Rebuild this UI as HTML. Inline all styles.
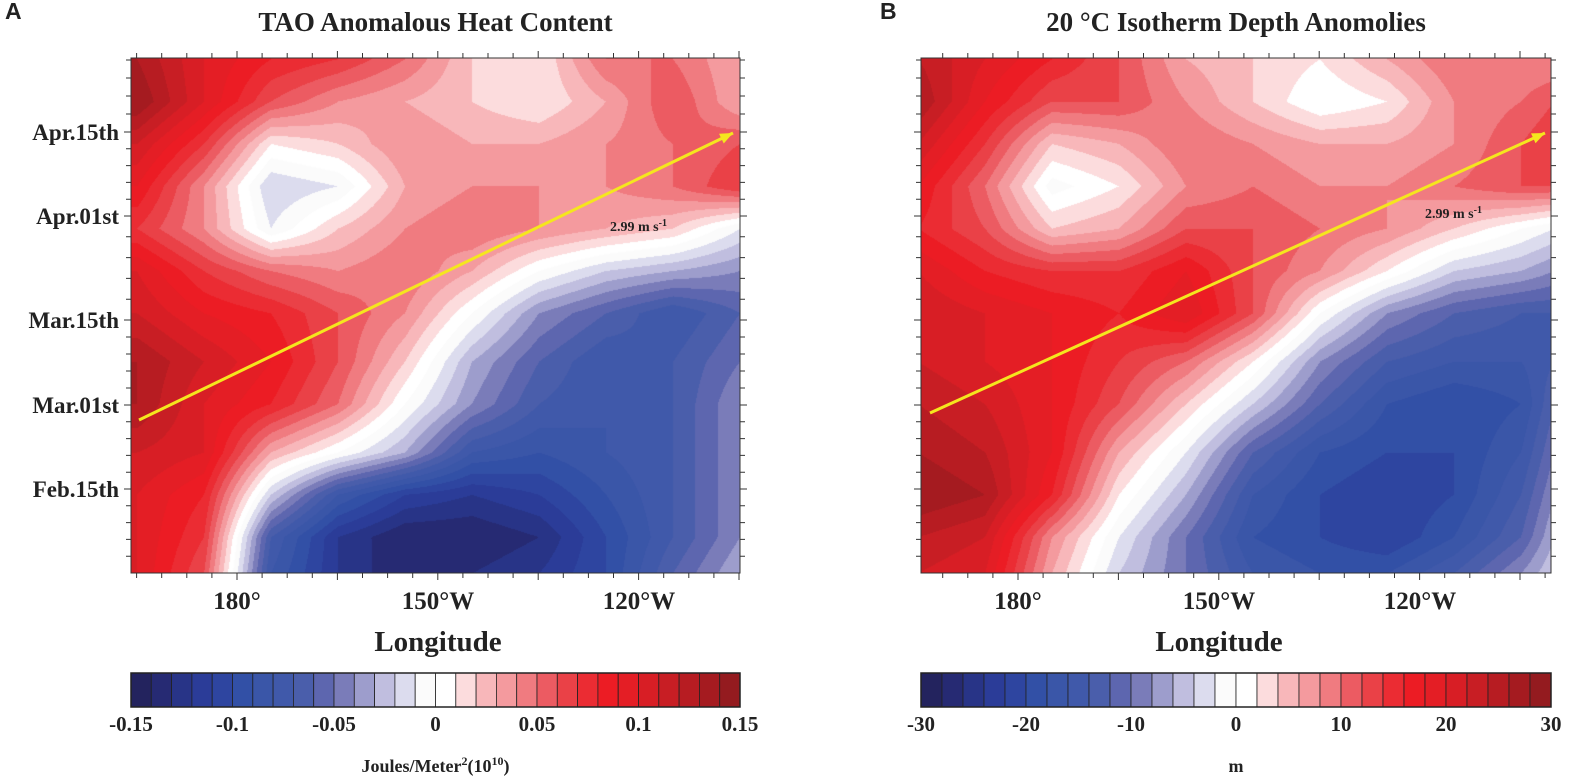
<!DOCTYPE html>
<html><head><meta charset="utf-8"><style>
body{margin:0;background:#fff;width:1584px;height:782px;overflow:hidden;position:relative;font-family:"Liberation Serif",serif;}
canvas{position:absolute;}
svg{position:absolute;left:0;top:0;}
text{font-family:"Liberation Serif",serif;font-weight:bold;fill:#222;}
</style></head><body>
<canvas id="cA" width="609" height="515" style="left:131px;top:58px"></canvas>
<canvas id="cB" width="630" height="515" style="left:921px;top:58px"></canvas>
<svg id="s" width="1584" height="782"></svg>
<script>
const palette=["#23235e","#262a73","#283487","#2b3c98","#2e45a0","#3250a6","#3a56a8","#4059aa","#4a5eab","#5d66af","#7a7cb9","#9d9dcc","#c0bedf","#dcdcee","#fbfbfb","#ffffff","#fcdcdd","#f8b7ba","#f49a9e","#f07b80","#ec5b62","#ea4147","#eb2c33","#ec1c24","#e41e25","#d81e25","#c81e24","#b71c22","#a51b20","#941b1f"];
const days=[85,78,71,64,57,50,43,35,28,20,13,6,0];
const lonsA=[165,175,185,195,205,215,225,235,245,255];
// heat content anomaly, units of 0.01e10 J/m2
const heatA=[
[13,10,8,7,5,2,1,5,5,3],
[14,10,6,4,3,2,1,3,6,3],
[11,7,1,2,4,3,3,4,5,6],
[9,4,-2,-1,3,4,4,4,5,7],
[7,4,-1,2,4,5,4,3,2,-1],
[10,7,5,4,5,3,0,-2,-3,-4],
[11,9,8,6,4,0,-4,-6,-8,-6],
[13,11,9,6,2,-3,-6,-8,-7,-5],
[13,10,8,5,0,-4,-7,-8,-7,-4],
[11,10,3,0,-3,-8,-9,-8,-7,-4],
[10,8,-2,-8,-11,-12,-11,-9,-7,-4],
[10,7,-7,-12,-14,-14,-13,-10,-7,-4],
[10,6,-8,-12,-14,-13,-12,-10,-6,-3]];
const lonsB=[165,175,185,195,205,215,225,235,245,255,260];
// 20C isotherm depth anomaly, m
const depthB=[
[24,20,16,12,6,4,2,6,10,8,8],
[26,18,12,12,8,4,0,2,8,10,12],
[22,14,4,6,10,8,6,6,8,12,14],
[18,10,-1,2,8,10,8,8,10,12,12],
[16,12,4,6,12,12,10,8,4,0,-2],
[20,16,14,14,18,12,8,2,-4,-6,-8],
[22,20,18,16,20,12,0,-8,-12,-14,-14],
[22,20,18,14,10,2,-8,-14,-16,-16,-14],
[24,22,18,12,4,-4,-12,-18,-20,-18,-12],
[26,24,18,6,-2,-12,-18,-20,-20,-16,-10],
[28,26,16,2,-6,-16,-20,-22,-20,-14,-8],
[24,22,8,-2,-10,-18,-20,-22,-18,-12,-6],
[22,20,6,-4,-10,-16,-18,-18,-14,-8,-4]];
const yLabels=["Apr.15th","Apr.01st","Mar.15th","Mar.01st","Feb.15th"];
const yLabelPx=[132,216,320,405,489];
const cbA=["-0.15","-0.1","-0.05","0","0.05","0.1","0.15"];
const cbB=["-30","-20","-10","0","10","20","30"];
const xTicks=["180°","150°W","120°W"];
const xTickLon=[180,210,240];

function hex(c){return [parseInt(c.slice(1,3),16),parseInt(c.slice(3,5),16),parseInt(c.slice(5,7),16)];}
const pal=palette.map(hex);
function seg(arr,v){for(let i=0;i<arr.length-1;i++){const a=arr[i],b=arr[i+1];const lo=Math.min(a,b),hi=Math.max(a,b);if(v>=lo&&v<=hi)return [i,(v-a)/(b-a)];}return v<Math.min(arr[0],arr[arr.length-1])?(arr[0]<arr[1]?[0,0]:[arr.length-2,1]):(arr[0]<arr[1]?[arr.length-2,1]:[0,0]);}
function draw(id,lons,grid,lonL,toIdx){
 const cv=document.getElementById(id),ctx=cv.getContext('2d');const W=cv.width,H=cv.height;
 const img=ctx.createImageData(W,H);
 for(let py=0;py<H;py++){const d=(515-py)/6.05;const [j,ty]=seg(days,d);
  for(let px=0;px<W;px++){const lon=lonL+px*30/201;const [i,tx]=seg(lons,lon);
   const v=(grid[j][i]*(1-tx)+grid[j][i+1]*tx)*(1-ty)+(grid[j+1][i]*(1-tx)+grid[j+1][i+1]*tx)*ty;
   let k=toIdx(v);k=Math.max(0,Math.min(29,k));const c=pal[k];const o=(py*W+px)*4;
   img.data[o]=c[0];img.data[o+1]=c[1];img.data[o+2]=c[2];img.data[o+3]=255;}}
 ctx.putImageData(img,0,0);
}
draw('cA',lonsA,heatA,180-106*30/201,v=>Math.floor(v+15));
draw('cB',lonsB,depthB,180-97*30/201,v=>Math.floor((v+30)/2));

const S=document.getElementById('s');const NS="http://www.w3.org/2000/svg";
function el(t,a,txt){const e=document.createElementNS(NS,t);for(const k in a)e.setAttribute(k,a[k]);if(txt!=null)e.textContent=txt;S.appendChild(e);return e;}
function panel(p){
 const L=p.L,R=p.R,T=58,B=573;
 let e=el('rect',{x:L,y:T,width:R-L,height:B-T,fill:'none',stroke:'#333','stroke-width':1});
 
 let d='';
 for(let k=0;k<yLabelPx.length;k++){for(let m=0;m<5;m++){const y=yLabelPx[k]+m*(k<4?(yLabelPx[k+1]-yLabelPx[k])/5:16.8);if(y>B)continue;const len=m==0?7:5;d+=`M${L} ${y}h${-len}M${R} ${y}h${len}`;}
  for(let m=1;m<5;m++){const y=yLabelPx[0]-m*18;if(k==0&&y>T)d+=`M${L} ${y}h-5M${R} ${y}h5`;}}
 for(let x=L+(p.x180-L)%25.1;x<=R+1;x+=25.1){const maj=Math.abs((x-p.x180)%100.5)<2||Math.abs((x-p.x180)%100.5-100.5)<2;d+=`M${x} ${B}v${maj?7:5}M${x} ${T}v-${maj?7:5}`;}
 e=el('path',{d:d,stroke:'#333','stroke-width':1,fill:'none'});
 
 e=el('text',{x:(L+R)/2,y:31,'text-anchor':'middle','font-size':27},p.title);
 
 e=el('text',{x:p.lx,y:19,'font-size':23,style:'font-family:"Liberation Sans",sans-serif'},p.letter);
 
 if(p.ylab){yLabels.forEach((t,k)=>{const q=el('text',{x:119,y:yLabelPx[k]+8,'text-anchor':'end','font-size':23},t);
  });}
 xTicks.forEach((t,k)=>{const q=el('text',{x:p.x180+(xTickLon[k]-180)*201/30,y:609,'text-anchor':'middle','font-size':25},t);
  });
 e=el('text',{x:p.x180+201,y:651,'text-anchor':'middle','font-size':29},'Longitude');
 
 e=el('line',{x1:p.a[0],y1:p.a[1],x2:p.a[2],y2:p.a[3],stroke:'#f5e61e','stroke-width':3});
 
 const ang=Math.atan2(p.a[3]-p.a[1],p.a[2]-p.a[0]);const hx=p.a[2],hy=p.a[3];
 const pts=[[hx,hy],[hx-14*Math.cos(ang-0.4),hy-14*Math.sin(ang-0.4)],[hx-14*Math.cos(ang+0.4),hy-14*Math.sin(ang+0.4)]];
 e=el('polygon',{points:pts.map(q=>q.join(',')).join(' '),fill:'#f5e61e'});
 
 e=el('text',{x:p.sp[0],y:p.sp[1],'font-size':14});e.innerHTML='2.99 m s<tspan dy="-5" font-size="10">-1</tspan>';
 
 const bw=(R-L)/30;
 for(let k=0;k<30;k++){const q=el('rect',{x:L+k*bw,y:673,width:bw,height:34,fill:palette[k],stroke:'#222','stroke-width':0.8});
  }
 e=el('rect',{x:L,y:673,width:R-L,height:34,fill:'none',stroke:'#222','stroke-width':1.5});
 
 p.cb.forEach((t,k)=>{const q=el('text',{x:L+k*5*bw,y:731,'text-anchor':'middle','font-size':21},t);
  });
 e=el('text',{x:(L+R)/2,y:772,'text-anchor':'middle','font-size':18});e.innerHTML=p.unit;
 
}
panel({n:'a',L:131,R:740,x180:237,title:'TAO Anomalous Heat Content',letter:'A',lx:5,ylab:true,a:[139,420,733,133],sp:[610,231],cb:cbA,unit:'Joules/Meter<tspan dy="-7" font-size="12">2</tspan><tspan dy="7">(10</tspan><tspan dy="-7" font-size="12">10</tspan><tspan dy="7">)</tspan>'});
panel({n:'b',L:921,R:1551,x180:1018,title:'20 °C Isotherm Depth Anomolies',letter:'B',lx:880,ylab:false,a:[930,413,1545,133],sp:[1425,218],cb:cbB,unit:'m'});
</script>
</body></html>
